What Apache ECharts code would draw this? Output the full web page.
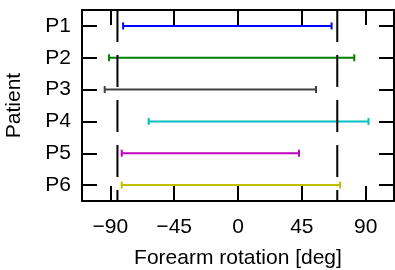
<!doctype html>
<html>
<head>
<meta charset="UTF-8">
<title></title>
<script src="https://cdn.jsdelivr.net/npm/echarts@6/dist/echarts.min.js"></script>
<style>
  html, body { margin: 0; padding: 0; background: #fff; }
  #main { width: 395px; height: 270px; }
</style>
</head>
<body>
<div id="main"></div>
<script>
// data
var patients = ['P1', 'P2', 'P3', 'P4', 'P5', 'P6'];
var rangeLow = [-81, -91, -94, -63, -82, -82];
var rangeHigh = [66, 82, 55, 92, 43, 72];
var barColors = ['#0000ff', '#008000', '#404040', '#00bfbf', '#bf00bf', '#bfbf00'];
var limitLines = [-85, 70];
var xTicks = [-90, -45, 0, 45, 90];

var font = 'Liberation Sans';

var barData = patients.map(function (p, i) {
  return [rangeLow[i], rangeHigh[i], i];
});

function fmtMinus(v) {
  return v < 0 ? '\u2212' + Math.abs(v) : String(v);
}

var chart = echarts.init(document.getElementById('main'));

var tickStyle = { show: true, inside: true, length: 15, lineStyle: { color: '#000', width: 2 } };
var lineStyle = { show: true, onZero: false, lineStyle: { color: '#000', width: 2 } };

var option = {
  animation: false,
  grid: { left: 82, top: 10, right: 1, bottom: 69, outerBoundsMode: 'none' },
  xAxis: [{
    type: 'value',
    min: -110,
    max: 110,
    position: 'bottom',
    name: 'Forearm rotation [deg]',
    nameLocation: 'middle',
    nameGap: 47,
    nameTextStyle: { fontFamily: font, fontSize: 21, color: '#000' },
    axisLine: lineStyle,
    axisTick: Object.assign({ customValues: xTicks }, tickStyle),
    axisLabel: {
      customValues: xTicks,
      formatter: fmtMinus,
      fontFamily: font, fontSize: 21, color: '#000', margin: 16
    },
    splitLine: { show: false }
  }, {
    type: 'value',
    min: -110,
    max: 110,
    position: 'top',
    axisLine: lineStyle,
    axisTick: Object.assign({ customValues: xTicks }, tickStyle),
    axisLabel: { show: false },
    splitLine: { show: false }
  }],
  yAxis: [{
    type: 'category',
    data: patients,
    inverse: true,
    position: 'left',
    name: 'Patient',
    nameLocation: 'middle',
    nameGap: 57,
    nameTextStyle: { fontFamily: font, fontSize: 21, color: '#000' },
    axisLine: lineStyle,
    axisTick: Object.assign({ alignWithLabel: true }, tickStyle),
    axisLabel: { fontFamily: font, fontSize: 21, color: '#000', margin: 11 }
  }, {
    type: 'category',
    data: patients,
    inverse: true,
    position: 'right',
    axisLine: lineStyle,
    axisTick: Object.assign({ alignWithLabel: true }, tickStyle),
    axisLabel: { show: false }
  }],
  series: [{
    type: 'custom',
    xAxisIndex: 0,
    yAxisIndex: 0,
    data: barData,
    encode: { x: [0, 1], y: 2 },
    renderItem: function (params, api) {
      var i = api.value(2);
      var a = api.coord([api.value(0), i]);
      var b = api.coord([api.value(1), i]);
      var c = barColors[i];
      var h = 3.5;
      var st = { stroke: c, lineWidth: 2 };
      return {
        type: 'group',
        children: [
          { type: 'line', shape: { x1: a[0], y1: a[1], x2: b[0], y2: b[1] }, style: st },
          { type: 'line', shape: { x1: a[0], y1: a[1] - h, x2: a[0], y2: a[1] + h }, style: st },
          { type: 'line', shape: { x1: b[0], y1: b[1] - h, x2: b[0], y2: b[1] + h }, style: st }
        ]
      };
    }
  }, {
    type: 'custom',
    xAxisIndex: 0,
    yAxisIndex: 0,
    data: limitLines.map(function (v) { return [v, 0]; }),
    encode: { x: 0, y: 1 },
    z: 5,
    renderItem: function (params, api) {
      var x = api.coord([api.value(0), 0])[0];
      var cs = params.coordSys;
      return {
        type: 'line',
        shape: { x1: x, y1: cs.y, x2: x, y2: cs.y + cs.height },
        style: { stroke: '#000', lineWidth: 2, lineDash: [32, 13] }
      };
    }
  }]
};

chart.setOption(option);
</script>
</body>
</html>
